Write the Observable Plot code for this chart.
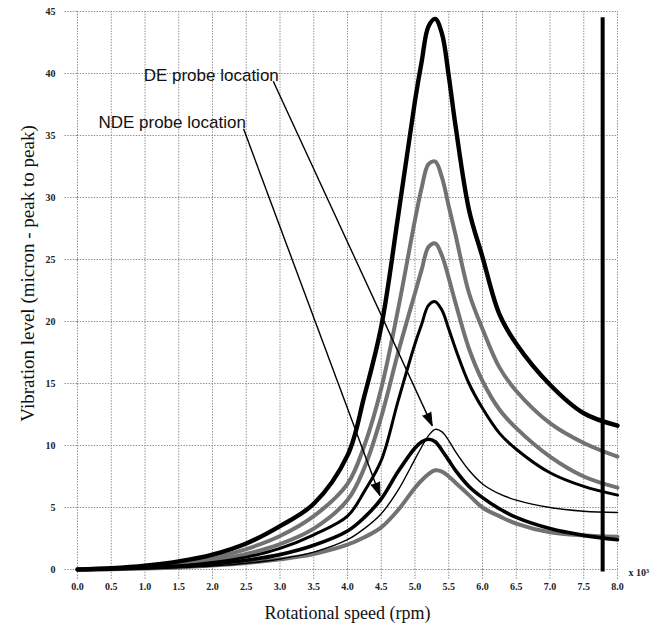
<!DOCTYPE html>
<html>
<head>
<meta charset="utf-8">
<script src="https://cdn.jsdelivr.net/npm/d3@7"></script>
<script src="https://cdn.jsdelivr.net/npm/@observablehq/plot@0.6"></script>
<style>
  html, body { margin: 0; padding: 0; background: #fff; }
</style>
</head>
<body>
<div id="chart"></div>
<script>
// ---------- data ----------
const speed = [0, 0.5, 1, 1.5, 2, 2.5, 3, 3.5, 4, 4.25, 4.5, 4.75, 5, 5.1, 5.2, 5.3, 5.4, 5.5, 5.6, 5.8, 6, 6.25, 6.5, 7, 7.5, 8];

const curve1 = [0, 0.1, 0.3, 0.65, 1.2, 2.1, 3.5, 5.3, 9.2, 14.0, 19.6, 28.5, 37.8, 41.0, 43.8, 44.4, 43.2, 39.8, 35.8, 29.0, 25.2, 20.6, 18.2, 14.9, 12.6, 11.6];
const curve2 = [0, 0.07, 0.22, 0.5, 0.95, 1.65, 2.7, 4.3, 6.9, 10.0, 14.6, 21.0, 28.2, 30.8, 32.7, 32.9, 31.6, 29.3, 27.0, 22.3, 19.4, 16.3, 14.4, 11.8, 10.2, 9.1];
const curve3 = [0, 0.05, 0.17, 0.38, 0.72, 1.25, 2.05, 3.3, 5.6, 8.2, 12.3, 17.5, 22.3, 24.2, 26.0, 26.3, 25.3, 23.5, 21.5, 17.8, 15.2, 12.9, 11.4, 9.1, 7.5, 6.6];
const curve4 = [0, 0.04, 0.13, 0.3, 0.57, 1.0, 1.7, 2.8, 4.3, 6.3, 8.8, 13.6, 18.2, 19.8, 21.3, 21.6, 20.9, 19.4, 17.8, 15.0, 13.0, 11.0, 9.7, 7.8, 6.7, 6.0];
const curve5 = [0, 0.02, 0.07, 0.15, 0.28, 0.5, 0.85, 1.4, 2.4, 3.3, 4.5, 6.4, 8.9, 9.9, 10.8, 11.3, 11.1, 10.4, 9.5, 8.0, 6.9, 6.1, 5.6, 5.0, 4.7, 4.6];
const curve6 = [0, 0.04, 0.12, 0.25, 0.45, 0.75, 1.2, 1.95, 3.1, 4.2, 5.7, 7.9, 9.8, 10.3, 10.5, 10.3, 9.6, 8.8, 8.0, 6.7, 5.8, 4.9, 4.2, 3.3, 2.75, 2.4];
const curve7 = [0, 0.02, 0.08, 0.17, 0.32, 0.52, 0.82, 1.25, 2.0, 2.6, 3.4, 4.8, 6.6, 7.2, 7.7, 8.0, 7.9, 7.5, 7.0, 6.0, 5.0, 4.3, 3.7, 3.0, 2.75, 2.65];

const xTicks = [0, 0.5, 1, 1.5, 2, 2.5, 3, 3.5, 4, 4.5, 5, 5.5, 6, 6.5, 7, 7.5, 8];
const xTickLabels = ["0.0", "0.5", "1.0", "1.5", "2.0", "2.5", "3.0", "3.5", "4.0", "4.5", "5.0", "5.5", "6.0", "6.5", "7.0", "7.5", "8.0"];
const yTicks = [0, 5, 10, 15, 20, 25, 30, 35, 40, 45];
const yTickLabels = ["0", "5", "10", "15", "20", "25", "30", "35", "40", "45"];

const markerSpeed = [7.78];
const markerBottom = [-0.2];
const markerTop = [44.5];

const noteTexts = ["DE probe location", "NDE probe location"];
const noteSpeed = [0.98, 0.31];
const noteLevel = [39.87, 36.08];
const arrowFromSpeed = [2.90, 2.46];
const arrowFromLevel = [39.38, 35.54];
const arrowToSpeed = [5.255, 4.48];
const arrowToLevel = [11.6, 5.97];

const xTitle = ["Rotational speed (rpm)"];
const yTitle = ["Vibration level (micron - peak to peak)"];
const xMultiplier = ["x 10\u00B3"];

// ---------- styles ----------
const GRAY = "#727272";
const curveStyles = [
  {values: curve7, stroke: GRAY, width: 4},
  {values: curve3, stroke: GRAY, width: 4},
  {values: curve2, stroke: GRAY, width: 4},
  {values: curve5, stroke: "#000", width: 1.4},
  {values: curve4, stroke: "#000", width: 3},
  {values: curve6, stroke: "#000", width: 3.6},
  {values: curve1, stroke: "#000", width: 4.4}
];

const gridStyle = {stroke: "#8c8c8c", strokeOpacity: 1, strokeWidth: 1, strokeDasharray: "1.4,1.4"};
const serif = "Liberation Serif, Times New Roman, serif";
const sans = "Liberation Sans, Arial, Helvetica, sans-serif";

function buildMarks(angles) {
  const marks = [
    Plot.gridX(xTicks, gridStyle),
    Plot.gridY(yTicks, gridStyle),
    Plot.axisX(xTicks, {
      tickSize: 10, tickPadding: 3, label: null,
      tickFormat: d => xTickLabels[xTicks.indexOf(d)],
      stroke: "#8c8c8c", strokeDasharray: "1.4,1.4", fill: "#222",
      fontSize: 10, fontWeight: "bold", fontFamily: serif
    }),
    Plot.axisY(yTicks, {
      tickSize: 14, tickPadding: 8, label: null,
      tickFormat: d => yTickLabels[yTicks.indexOf(d)],
      stroke: "#8c8c8c", strokeDasharray: "1.4,1.4", fill: "#222",
      fontSize: 10, fontWeight: "bold", fontFamily: serif
    })
  ];
  for (const c of curveStyles) {
    const rows = speed.map((s, i) => ({speed: s, level: c.values[i]}));
    marks.push(Plot.line(rows, {
      x: "speed", y: "level", stroke: c.stroke, strokeWidth: c.width,
      curve: "catmull-rom", strokeLinejoin: "round", strokeLinecap: "round"
    }));
  }
  marks.push(
    Plot.ruleX(markerSpeed, {x: markerSpeed, y1: markerBottom, y2: markerTop, stroke: "#000", strokeWidth: 4}),
    Plot.link(noteTexts, {x1: arrowFromSpeed, y1: arrowFromLevel, x2: arrowToSpeed, y2: arrowToLevel, stroke: "#000", strokeWidth: 1.4}),
    Plot.text(noteTexts, {x: noteSpeed, y: noteLevel, text: d => d, textAnchor: "start", fontSize: 17, fontFamily: sans, fill: "#111"}),
    Plot.text(xTitle, {text: d => d, frameAnchor: "bottom", textAnchor: "middle", lineAnchor: "middle", dy: 44, fontSize: 18, fontFamily: serif, fill: "#111"}),
    Plot.text(yTitle, {text: d => d, frameAnchor: "left", textAnchor: "middle", lineAnchor: "middle", dx: -50, dy: -17, rotate: -90, fontSize: 19, fontFamily: serif, fill: "#111"}),
    Plot.text(xMultiplier, {x: [8], y: [0], text: d => d, dx: 11, dy: 3, textAnchor: "start", fontSize: 10, fontWeight: "bold", fontFamily: serif, fill: "#222"})
  );
  if (angles) {
    marks.push(Plot.vector(noteTexts, {
      x: arrowToSpeed, y: arrowToLevel, rotate: angles, length: 13, r: 4.5,
      shape: "spike", anchor: "end", fill: "#000", stroke: "#000", strokeWidth: 1, fillOpacity: 1
    }));
  }
  return marks;
}

const layout = {
  width: 656, height: 627,
  marginLeft: 77, marginRight: 39, marginTop: 11, marginBottom: 58,
  x: {domain: [0, 8]},
  y: {domain: [0, 45]},
  style: {background: "#fff", overflow: "visible"}
};

const probe = Plot.plot({...layout, marks: buildMarks(null)});
const sx = probe.scale("x"), sy = probe.scale("y");
const angles = noteTexts.map((_, i) => {
  const dx = sx.apply(arrowToSpeed[i]) - sx.apply(arrowFromSpeed[i]);
  const dy = sy.apply(arrowToLevel[i]) - sy.apply(arrowFromLevel[i]);
  return Math.atan2(dx, -dy) * 180 / Math.PI;
});

const chart = Plot.plot({...layout, marks: buildMarks(angles)});
document.getElementById("chart").appendChild(chart);
</script>
</body>
</html>
